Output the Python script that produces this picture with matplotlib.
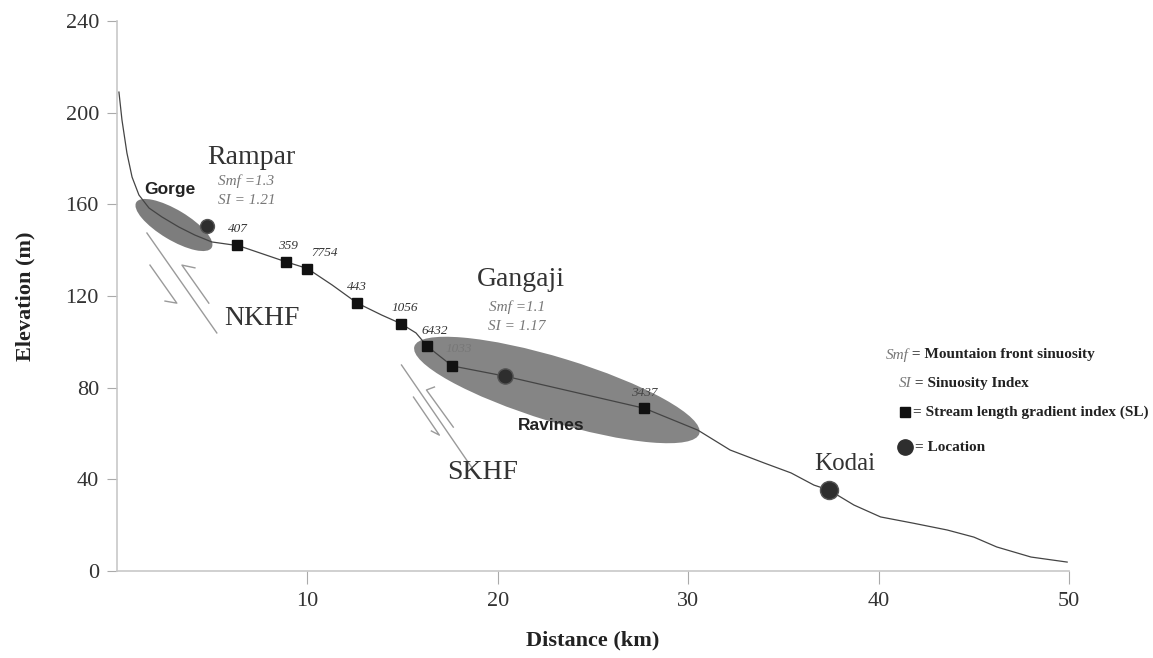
import matplotlib
matplotlib.use("Agg")
import matplotlib.pyplot as plt
from matplotlib.patches import Ellipse
from matplotlib.transforms import ScaledTranslation

plt.rcParams['font.family'] = ['Liberation Serif', 'DejaVu Serif']

# === River longitudinal profile ===
dist_km = [0.1, 0.26, 0.52, 0.79, 1.15, 1.68, 2.36, 3.25, 4.09, 4.98, 6.0, 6.3,
           8.85, 10.0, 11.3, 12.6, 13.9, 14.9, 15.7, 16.3, 17.6, 20.4,
           27.7, 30.5, 32.2, 34.0, 35.4, 36.6, 37.4, 38.7, 40.1, 41.8,
           43.6, 45.0, 46.2, 48.0, 49.9]
elev_m = [209.0, 196.8, 182.4, 171.9, 164.1, 158.4, 154.5, 150.1, 146.6, 143.6, 142.4, 142.2,
          135.0, 132.0, 124.8, 117.0, 111.7, 108.0, 103.9, 98.0, 89.5, 85.0,
          71.0, 61.5, 52.8, 47.1, 42.8, 37.5, 35.3, 28.8, 23.6, 20.9,
          17.9, 14.8, 10.5, 6.1, 3.9]

# Stream length gradient index (SL) points
sl_x = [6.3, 8.85, 10.0, 12.6, 14.9, 16.3, 17.6, 27.7]
sl_y = [142.2, 135.0, 132.0, 117.0, 108.0, 98.0, 89.5, 71.0]
sl_values = ["407", "359", "7754", "443", "1056", "6432", "1033", "3437"]
sl_offsets = [(1, 7), (2, 7), (12, 7), (0, 7), (3, 7), (5, 7), (5, 8), (0, 7)]
sl_colors = ['#333333'] * 6 + ['#777777', '#444444']

# Locations
loc_names = ["Rampar", "Gangaji", "Kodai"]
loc_x = [4.7, 20.4, 37.4]
loc_y = [150.5, 85.0, 35.3]
loc_sizes = [10, 11, 13]

# Fault traces (NKHF, SKHF)
nkhf_long = ([1.57, 5.24], [147.5, 103.9])
nkhf_left = ([1.73, 3.14, 2.52], [133.5, 116.9, 117.8])
nkhf_right = ([4.09, 3.41, 4.82], [132.3, 133.5, 116.9])
skhf_long = ([14.94, 18.61], [89.9, 45.4])
skhf_left = ([15.57, 16.93, 16.51], [75.9, 59.3, 61.1])
skhf_right = ([16.67, 16.25, 17.66], [80.3, 79.0, 62.8])

fig = plt.figure(figsize=(11.53, 6.58), dpi=100)
ax = fig.add_axes([0.1015, 0.1322, 0.8257, 0.8358])
ax.set_xlim(0, 50)
ax.set_ylim(0, 240)


def shaded_ellipse(cx, cy, w_in, h_in, angle, color):
    tr = fig.dpi_scale_trans + ScaledTranslation(cx, cy, ax.transData)
    e = Ellipse((0, 0), w_in, h_in, angle=angle, transform=tr,
                facecolor=color, edgecolor='none', zorder=1)
    ax.add_patch(e)


shaded_ellipse(2.99, 151.0, 0.88, 0.30, -31, '#7d7d7d')
shaded_ellipse(23.1, 79.0, 2.98, 0.64, -17, '#858585')

ax.plot(dist_km, elev_m, color='#444444', lw=0.9, zorder=2)
ax.plot(sl_x, sl_y, linestyle='none', marker='s', ms=6.5, color='#111111', zorder=3)
for x, y, s, off, c in zip(sl_x, sl_y, sl_values, sl_offsets, sl_colors):
    ax.annotate(s, (x, y), xytext=off, textcoords='offset points', ha='center',
                va='bottom', fontsize=9.5, style='italic', color=c)

for x, y, s in zip(loc_x, loc_y, loc_sizes):
    ax.plot(x, y, marker='o', ms=s, color='#2e2e2e', mec='#555555', zorder=4)

for xs, ys in [nkhf_long, nkhf_left, nkhf_right, skhf_long, skhf_left, skhf_right]:
    ax.plot(xs, ys, color='#9a9a9a', lw=1.0, zorder=1)

# place names and indices
txt = '#333333'
ax.text(7.07, 180.6, "Rampar", fontsize=20, ha='center', va='center', color=txt)
ax.text(6.8, 170.2, "Smf =1.3", fontsize=11, style='italic', ha='center', va='center', color='#777777')
ax.text(6.8, 161.5, "SI = 1.21", fontsize=11, style='italic', ha='center', va='center', color='#777777')
ax.text(21.2, 127.0, "Gangaji", fontsize=20, ha='center', va='center', color=txt)
ax.text(21.0, 115.2, "Smf =1.1", fontsize=11, style='italic', ha='center', va='center', color='#777777')
ax.text(21.0, 106.9, "SI = 1.17", fontsize=11, style='italic', ha='center', va='center', color='#777777')
ax.text(38.2, 46.6, "Kodai", fontsize=18, ha='center', va='center', color=txt)
ax.text(7.6, 110.4, "NKHF", fontsize=20, ha='center', va='center', color=txt)
ax.text(19.2, 43.2, "SKHF", fontsize=20, ha='center', va='center', color=txt)
ax.text(2.78, 166.3, "Gorge", fontsize=12.5, fontweight='bold', family='Liberation Sans',
        ha='center', va='center', color='#222222')
ax.text(22.8, 63.7, "Ravines", fontsize=12.5, fontweight='bold', family='Liberation Sans',
        ha='center', va='center', color='#222222')

# key
t1 = ax.text(40.36, 94.3, "Smf", fontsize=11, style='italic', color='#777777', va='center')
ax.annotate(" = Mountaion front sinuosity", xy=(1, 0.5), xycoords=t1, va='center',
            fontsize=11, fontweight='bold', color='#222222')
t2 = ax.text(41.04, 82.0, "SI", fontsize=11, style='italic', color='#777777', va='center')
ax.annotate(" = Sinuosity Index", xy=(1, 0.5), xycoords=t2, va='center',
            fontsize=11, fontweight='bold', color='#222222')
ax.plot(41.4, 69.4, marker='s', ms=7, color='#111111')
ax.text(41.8, 69.4, "= Stream length gradient index (SL)", fontsize=11, fontweight='bold',
        color='#222222', va='center')
ax.plot(41.4, 54.1, marker='o', ms=11, color='#2e2e2e')
ax.text(41.9, 54.1, "= Location", fontsize=11, fontweight='bold', color='#222222', va='center')

for side in ['top', 'right']:
    ax.spines[side].set_visible(False)
for side in ['left', 'bottom']:
    ax.spines[side].set_color('#c8c8c8')
    ax.spines[side].set_linewidth(1.2)

ax.set_xticks([10, 20, 30, 40, 50])
ax.set_yticks([0, 40, 80, 120, 160, 200, 240])
ax.tick_params(axis='x', length=9, color='#aaaaaa', pad=6, labelsize=16, labelcolor='#333333')
ax.tick_params(axis='y', length=7, color='#aaaaaa', pad=6, labelsize=16, labelcolor='#333333')

ax.set_xlabel("Distance (km)", fontsize=16, fontweight='bold', color='#222222', labelpad=14)
ax.set_ylabel("Elevation (m)", fontsize=16, fontweight='bold', color='#222222', labelpad=22)

fig.savefig("out.png", dpi=100)
